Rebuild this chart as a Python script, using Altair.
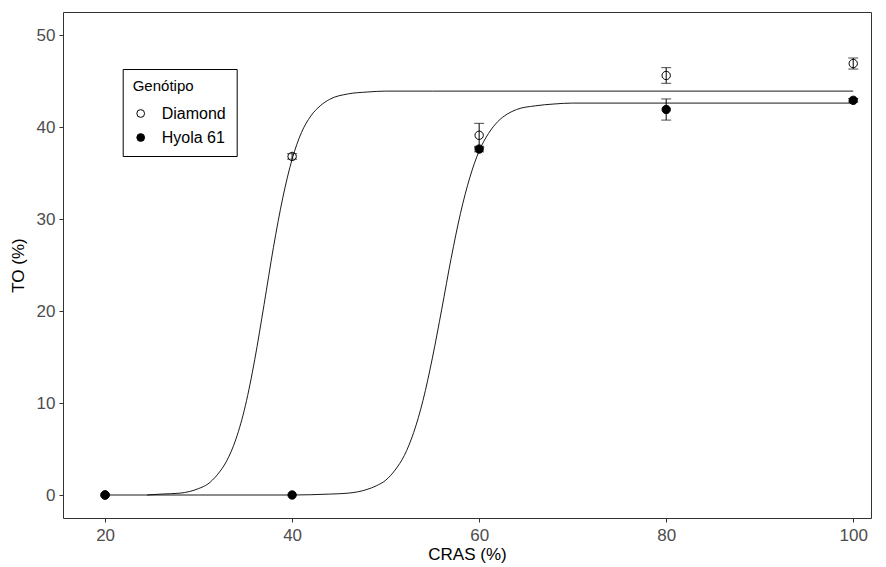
import altair as alt
import pandas as pd

# ---- data ----
cras = [20, 40, 60, 80, 100]
genotypes = ["Diamond", "Hyola 61"]
diamond_mean = [0.0, 36.8, 39.1, 45.6, 46.9]
diamond_se = [0.0, 0.3, 1.3, 0.85, 0.6]
hyola_mean = [0.0, 0.0, 37.6, 41.9, 42.9]
hyola_se = [0.0, 0.0, 0.3, 1.15, 0.2]

# fitted curves
curve_diamond_x = [24.5, 26, 28, 30, 31, 32, 33, 34, 35, 36, 37, 38, 39, 40, 41, 42, 43, 44, 46, 48, 50, 55, 60, 100]
curve_diamond_y = [0.0, 0.1, 0.2, 0.7, 1.2, 2.2, 3.7, 6.1, 9.7, 14.7, 20.7, 26.9, 32.3, 36.5, 39.4, 41.2, 42.3, 43.0, 43.6, 43.8, 43.9, 43.9, 43.9, 43.9]
curve_hyola_x = [20, 30, 40, 44, 46, 48, 49, 50, 51, 52, 53, 54, 55, 56, 57, 58, 59, 60, 61, 62, 63, 64, 66, 68, 70, 100]
curve_hyola_y = [0.0, 0.0, 0.0, 0.1, 0.2, 0.6, 1.0, 1.6, 2.7, 4.3, 6.8, 10.3, 14.9, 20.2, 25.7, 30.6, 34.5, 37.4, 39.3, 40.6, 41.4, 41.9, 42.3, 42.5, 42.6, 42.6]

x_ticks = [20, 40, 60, 80, 100]
y_ticks = [0, 10, 20, 30, 40, 50]

# ---- tables ----
pts = pd.DataFrame({
    "x": cras + cras,
    "y": diamond_mean + hyola_mean,
    "se": diamond_se + hyola_se,
    "g": [genotypes[0]] * len(cras) + [genotypes[1]] * len(cras),
})
pts["lo"] = pts["y"] - pts["se"]
pts["hi"] = pts["y"] + pts["se"]

curves_df = pd.DataFrame({
    "x": curve_diamond_x + curve_hyola_x,
    "y": curve_diamond_y + curve_hyola_y,
    "g": [genotypes[0]] * len(curve_diamond_x) + [genotypes[1]] * len(curve_hyola_x),
})

xscale = alt.Scale(domain=[15.5, 101.9], nice=False, zero=False)
yscale = alt.Scale(domain=[-2.5, 52.5], nice=False, zero=False)

xax = alt.Axis(values=x_ticks, title="CRAS (%)", format="d", labelPadding=5)
yax = alt.Axis(values=y_ticks, title="TO (%)", format="d")

curves = alt.Chart(curves_df).mark_line(color="black", strokeWidth=0.9, interpolate="monotone").encode(
    x=alt.X("x:Q", scale=xscale, axis=xax),
    y=alt.Y("y:Q", scale=yscale, axis=yax),
    detail="g:N",
)

points = alt.Chart(pts).mark_point(
    shape="circle", filled=True, stroke="black", strokeWidth=1, size=70, opacity=1
).encode(
    x=alt.X("x:Q", scale=xscale),
    y=alt.Y("y:Q", scale=yscale),
    fill=alt.Fill(
        "g:N",
        scale=alt.Scale(domain=genotypes, range=["transparent", "black"]),
        legend=alt.Legend(
            title="Genótipo",
            orient="none",
            legendX=59.7,
            legendY=57,
            symbolStrokeColor="black",
            symbolStrokeWidth=1,
            symbolSize=60,
            symbolType="circle",
        ),
    ),
)

bars_base = alt.Chart(pts).transform_filter(alt.datum.se > 0)
rules = bars_base.mark_rule(color="black", strokeWidth=1).encode(
    x=alt.X("x:Q", scale=xscale),
    y=alt.Y("lo:Q", scale=yscale),
    y2="hi:Q",
)
caps_hi = bars_base.mark_tick(color="black", orient="horizontal", size=10, thickness=1).encode(
    x=alt.X("x:Q", scale=xscale),
    y=alt.Y("hi:Q", scale=yscale),
)
caps_lo = bars_base.mark_tick(color="black", orient="horizontal", size=10, thickness=1).encode(
    x=alt.X("x:Q", scale=xscale),
    y=alt.Y("lo:Q", scale=yscale),
)

FONT = "Liberation Sans"

chart = alt.layer(curves, points, rules, caps_hi, caps_lo).properties(
    width=808,
    height=506,
    padding={"left": 63, "top": 12, "right": 15, "bottom": 49},
    autosize="none",
).configure_view(
    stroke="#333333", strokeWidth=1
).configure_axis(
    domain=False,
    grid=False,
    ticks=True,
    tickColor="#333333",
    tickSize=4,
    labelColor="#4D4D4D",
    labelFont=FONT,
    labelFontSize=17,
    labelPadding=4,
    titleFont=FONT,
    titleFontSize=17,
    titleFontWeight="normal",
    titleColor="black",
).configure_axisX(
    titlePadding=3,
).configure_axisY(
    titlePadding=9,
).configure_legend(
    titleFont=FONT,
    titleFontSize=15,
    titleFontWeight="normal",
    titleColor="black",
    labelFont=FONT,
    labelFontSize=16,
    labelColor="black",
    strokeColor="black",
    fillColor="white",
    padding=10,
    rowPadding=8,
    titlePadding=11.5,
    labelOffset=13,
    symbolOffset=0,
)

chart.save("out.html", embed_options={"renderer": "svg", "actions": False})
